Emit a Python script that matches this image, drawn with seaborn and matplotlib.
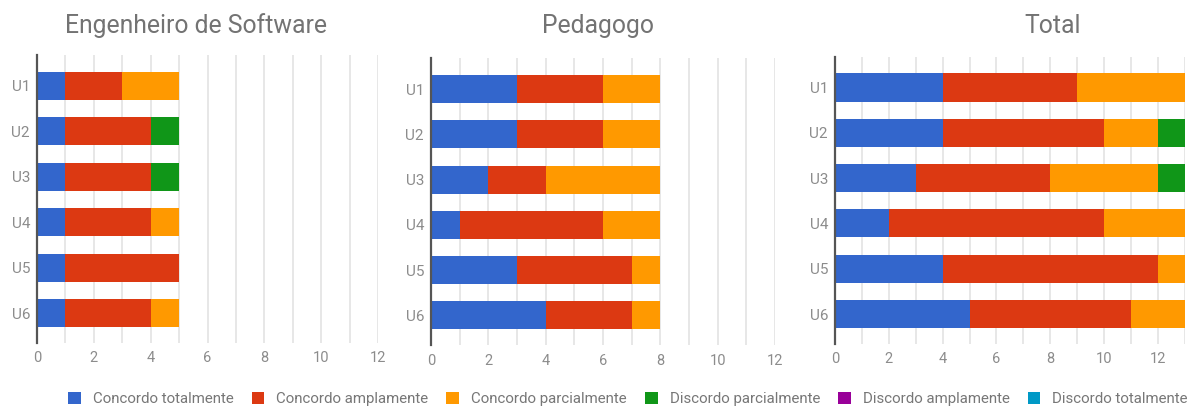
import matplotlib
matplotlib.use("Agg")
import matplotlib.pyplot as plt
from matplotlib.patches import Patch
import pandas as pd
import seaborn as sns

# Survey answers per item, one list per answer option
items = ["U1", "U2", "U3", "U4", "U5", "U6"]
categories = [
    "Concordo totalmente",
    "Concordo amplamente",
    "Concordo parcialmente",
    "Discordo parcialmente",
    "Discordo amplamente",
    "Discordo totalmente",
]
colors = ["#3366cc", "#dc3912", "#ff9900", "#109618", "#990099", "#0099c6"]

eng_concordo_totalmente = [1, 1, 1, 1, 1, 1]
eng_concordo_amplamente = [2, 3, 3, 3, 4, 3]
eng_concordo_parcialmente = [2, 0, 0, 1, 0, 1]
eng_discordo_parcialmente = [0, 1, 1, 0, 0, 0]
eng_discordo_amplamente = [0, 0, 0, 0, 0, 0]
eng_discordo_totalmente = [0, 0, 0, 0, 0, 0]

ped_concordo_totalmente = [3, 3, 2, 1, 3, 4]
ped_concordo_amplamente = [3, 3, 2, 5, 4, 3]
ped_concordo_parcialmente = [2, 2, 4, 2, 1, 1]
ped_discordo_parcialmente = [0, 0, 0, 0, 0, 0]
ped_discordo_amplamente = [0, 0, 0, 0, 0, 0]
ped_discordo_totalmente = [0, 0, 0, 0, 0, 0]

tot_concordo_totalmente = [4, 4, 3, 2, 4, 5]
tot_concordo_amplamente = [5, 6, 5, 8, 8, 6]
tot_concordo_parcialmente = [4, 2, 4, 3, 1, 2]
tot_discordo_parcialmente = [0, 1, 1, 0, 0, 0]
tot_discordo_amplamente = [0, 0, 0, 0, 0, 0]
tot_discordo_totalmente = [0, 0, 0, 0, 0, 0]

panel_titles = ["Engenheiro de Software", "Pedagogo", "Total"]
panel_series = [
    [eng_concordo_totalmente, eng_concordo_amplamente, eng_concordo_parcialmente,
     eng_discordo_parcialmente, eng_discordo_amplamente, eng_discordo_totalmente],
    [ped_concordo_totalmente, ped_concordo_amplamente, ped_concordo_parcialmente,
     ped_discordo_parcialmente, ped_discordo_amplamente, ped_discordo_totalmente],
    [tot_concordo_totalmente, tot_concordo_amplamente, tot_concordo_parcialmente,
     tot_discordo_parcialmente, tot_discordo_amplamente, tot_discordo_totalmente],
]
x_max = [12, 12, 13]

sns.set_theme(style="white")
plt.rcParams["font.family"] = ["Roboto", "DejaVu Sans"]

title_gray = "#737373"
tick_gray = "#8c8c8c"
legend_gray = "#777777"
fig = plt.figure(figsize=(11.95, 4.08), dpi=100)

# axes rectangles in figure fractions: left, bottom, width, height
rects = [
    [0.031, 0.159, 0.2854, 0.706],
    [0.3607, 0.154, 0.2879, 0.703],
    [0.6987, 0.157, 0.2929, 0.704],
]
title_x = [0.164, 0.500, 0.881]

for rect, title, series, xm, tx in zip(rects, panel_titles, panel_series, x_max, title_x):
    ax = fig.add_axes(rect)
    rows = []
    for cat, vals in zip(categories, series):
        for item, v in zip(items, vals):
            rows.append({"item": item, "category": cat, "value": v})
    df = pd.DataFrame(rows)
    df["category"] = pd.Categorical(df["category"], categories=categories, ordered=True)
    df = df.sort_values(["item", "category"])
    df["cum"] = df.groupby("item")["value"].cumsum()

    # stacked bars: draw the cumulative totals from the last option to the first
    for cat, col in reversed(list(zip(categories, colors))):
        sub = df[(df["category"] == cat) & (df["value"] > 0)]
        if sub.empty:
            continue
        sns.barplot(data=sub, x="cum", y="item", order=items, orient="h",
                    color=col, saturation=1, width=0.62, linewidth=0,
                    ax=ax, errorbar=None, zorder=3)

    ax.set_xlim(0, xm)
    ax.set_ylim(5.66, -0.68)
    ax.set_xticks(range(0, 13, 2))
    ax.set_xticks(range(0, xm + 1), minor=True)
    ax.grid(False)
    ax.xaxis.grid(True, which="both", color="#e3e3e3", linewidth=1.2, zorder=0)
    ax.set_axisbelow(True)
    ax.set_xlabel("")
    ax.set_ylabel("")
    for side in ["top", "right", "bottom"]:
        ax.spines[side].set_visible(False)
    ax.spines["left"].set_color("#555555")
    ax.spines["left"].set_linewidth(1.6)
    ax.spines["left"].set_zorder(5)
    ax.tick_params(axis="both", which="both", length=0, labelcolor=tick_gray)
    ax.tick_params(axis="x", pad=6, labelsize=10.5)
    ax.tick_params(axis="y", pad=5, labelsize=11)
    fig.text(tx, 0.937, title, ha="center", va="center", fontsize=17.8,
             color=title_gray)

handles = [Patch(facecolor=c, edgecolor="none") for c in colors]
fig.legend(handles, categories, loc="center", bbox_to_anchor=(0.5255, 0.022),
           ncol=6, frameon=False, fontsize=10.8, labelcolor=legend_gray,
           handlelength=0.85, handleheight=0.85, handletextpad=0.8,
           columnspacing=1.2)

fig.savefig("out.png", dpi=100)
